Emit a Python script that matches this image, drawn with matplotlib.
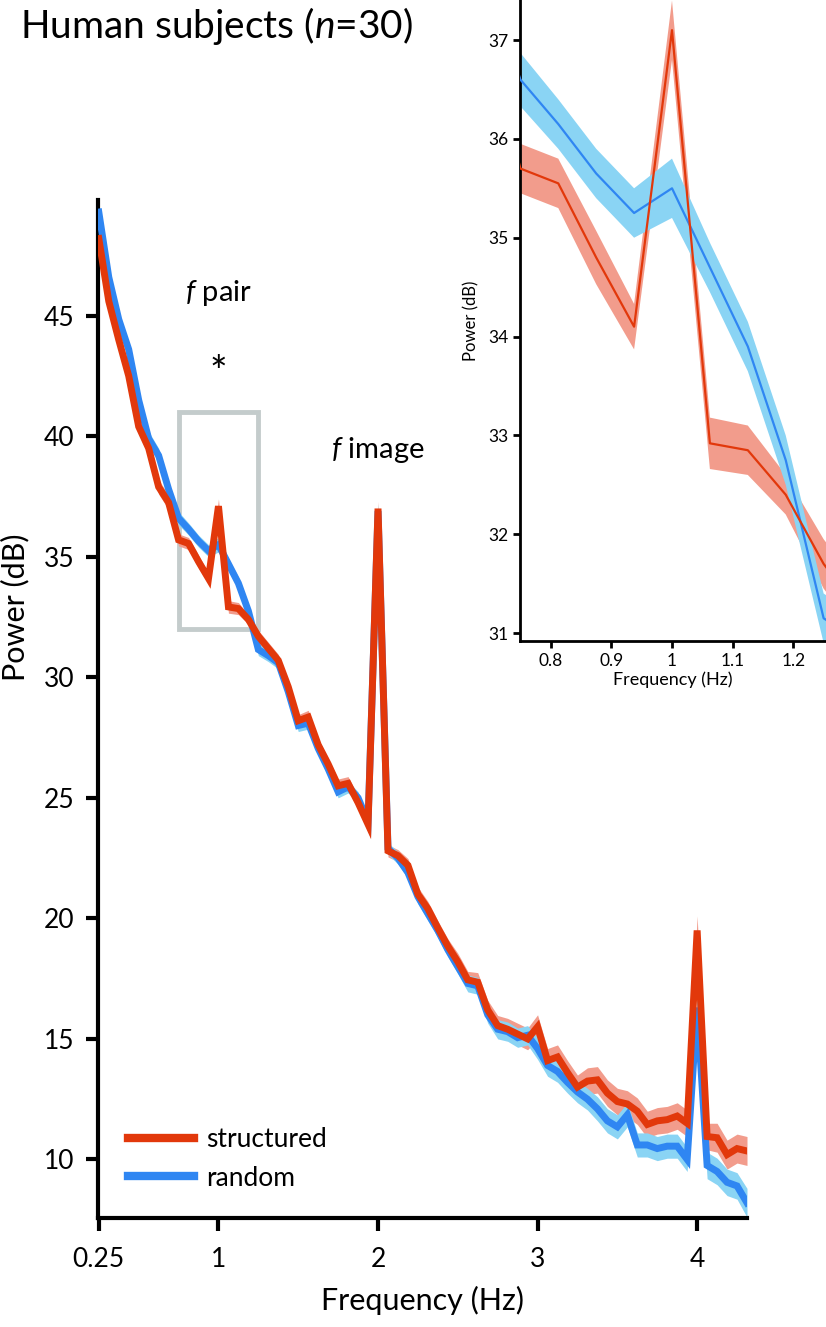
import matplotlib
matplotlib.use("Agg")
import matplotlib.pyplot as plt
from matplotlib.patches import Rectangle
import numpy as np

plt.rcParams['font.family'] = ['Lato', 'DejaVu Sans']
plt.rcParams['mathtext.fontset'] = 'custom'
plt.rcParams['mathtext.rm'] = 'Lato'
plt.rcParams['mathtext.it'] = 'Lato:italic'

# ---------------- data ----------------
freqs = [0.25, 0.3125, 0.375, 0.4375, 0.5, 0.5625, 0.625, 0.6875, 0.75, 0.8125,
         0.875, 0.9375, 1.0, 1.0625, 1.125, 1.1875, 1.25, 1.3125, 1.375, 1.4375,
         1.5, 1.5625, 1.625, 1.6875, 1.75, 1.8125, 1.875, 1.9375, 2.0, 2.0625,
         2.125, 2.1875, 2.25, 2.3125, 2.375, 2.4375, 2.5, 2.5625, 2.625, 2.6875,
         2.75, 2.8125, 2.875, 2.9375, 3.0, 3.0625, 3.125, 3.1875, 3.25, 3.3125,
         3.375, 3.4375, 3.5, 3.5625, 3.625, 3.6875, 3.75, 3.8125, 3.875, 3.9375,
         4.0, 4.0625, 4.125, 4.1875, 4.25, 4.3125]

structured = [48.2, 45.6, 44.0, 42.5, 40.4, 39.5, 37.9, 37.25, 35.7, 35.55,
              34.8, 34.1, 37.1, 32.92, 32.85, 32.4, 31.7, 31.2, 30.7, 29.6,
              28.2, 28.35, 27.2, 26.4, 25.5, 25.6, 24.8, 23.9, 37.0, 22.8,
              22.6, 22.2, 21.0, 20.4, 19.6, 18.85, 18.2, 17.45, 17.35, 16.2,
              15.55, 15.4, 15.2, 15.0, 15.5, 14.1, 14.25, 13.6, 13.0, 13.25,
              13.3, 12.75, 12.4, 12.3, 12.0, 11.45, 11.6, 11.65, 11.8, 11.5,
              19.5, 10.95, 10.9, 10.2, 10.45, 10.35]

random_ = [49.3, 46.6, 44.85, 43.6, 41.5, 39.9, 39.2, 37.8, 36.6, 36.15,
           35.65, 35.25, 35.5, 34.7, 33.9, 32.75, 31.15, 30.9, 30.6, 29.4,
           28.0, 28.1, 27.05, 26.2, 25.25, 25.45, 25.0, 24.0, 36.9, 22.9,
           22.5, 21.9, 20.9, 20.2, 19.5, 18.7, 18.0, 17.3, 17.2, 16.0,
           15.4, 15.3, 15.05, 15.15, 14.6, 13.9, 13.65, 13.2, 12.8, 12.5,
           12.1, 11.6, 11.35, 11.85, 10.6, 10.6, 10.45, 10.55, 10.55, 10.0,
           16.3, 9.75, 9.5, 9.05, 8.9, 8.2]

structured_sem = [0.3, 0.3, 0.3, 0.3, 0.3, 0.3, 0.3, 0.3, 0.25, 0.25,
                  0.27, 0.23, 0.3, 0.26, 0.25, 0.2, 0.25, 0.25, 0.25, 0.25,
                  0.25, 0.28, 0.25, 0.25, 0.28, 0.28, 0.25, 0.25, 0.3, 0.25,
                  0.25, 0.28, 0.3, 0.3, 0.3, 0.3, 0.35, 0.35, 0.4, 0.4,
                  0.42, 0.45, 0.45, 0.45, 0.5, 0.5, 0.5, 0.5, 0.5, 0.55,
                  0.55, 0.55, 0.55, 0.55, 0.55, 0.55, 0.55, 0.55, 0.55, 0.55,
                  0.6, 0.55, 0.6, 0.6, 0.6, 0.6]

random_sem = [0.3, 0.3, 0.3, 0.3, 0.3, 0.3, 0.3, 0.3, 0.27, 0.25,
              0.25, 0.25, 0.3, 0.25, 0.25, 0.25, 0.25, 0.25, 0.25, 0.25,
              0.25, 0.25, 0.25, 0.25, 0.25, 0.25, 0.25, 0.25, 0.3, 0.25,
              0.25, 0.25, 0.3, 0.3, 0.3, 0.3, 0.3, 0.35, 0.35, 0.35,
              0.4, 0.4, 0.4, 0.4, 0.45, 0.45, 0.45, 0.45, 0.45, 0.45,
              0.5, 0.5, 0.5, 0.5, 0.5, 0.5, 0.5, 0.5, 0.5, 0.5,
              0.55, 0.55, 0.55, 0.55, 0.55, 0.6]

main_xticks = [0.25, 1, 2, 3, 4]
main_xticklabels = ["0.25", "1", "2", "3", "4"]
main_yticks = [10, 15, 20, 25, 30, 35, 40, 45]
inset_xticks = [0.8, 0.9, 1.0, 1.1, 1.2]
inset_xticklabels = ["0.8", "0.9", "1", "1.1", "1.2"]
inset_yticks = [31, 32, 33, 34, 35, 36, 37]

labels = ["structured", "random"]

# ---------------- style ----------------
RED = "#E2380B"
RED_BAND = "#F29C8C"
BLUE = "#2F86F2"
BLUE_BAND = "#8AD4F4"
BOX = "#C4CCCC"

f = np.array(freqs)
s = np.array(structured); s_e = np.array(structured_sem)
r = np.array(random_); r_e = np.array(random_sem)

W, H = 826, 1327
fig = plt.figure(figsize=(W / 100, H / 100), dpi=100)

def px_axes(l, t, rgt, b):
    return fig.add_axes([l / W, 1 - b / H, (rgt - l) / W, (b - t) / H])

# ---------------- main axes ----------------
ax = px_axes(98, 200, 747, 1218)
ax.fill_between(f, s - s_e, s + s_e, color=RED_BAND, lw=0, zorder=1)
ax.fill_between(f, r - r_e, r + r_e, color=BLUE_BAND, lw=0, zorder=2)
ax.plot(f, r, color=BLUE, lw=5, solid_joinstyle='miter', zorder=3, label=labels[1])
ax.plot(f, s, color=RED, lw=5, solid_joinstyle='miter', zorder=4, label=labels[0])

ax.set_xlim(0.245, 4.3125)
ax.set_ylim(7.57, 49.8)
for side in ['top', 'right']:
    ax.spines[side].set_visible(False)
for side in ['left', 'bottom']:
    ax.spines[side].set_linewidth(3)
ax.set_xticks(main_xticks)
ax.set_xticklabels(main_xticklabels)
ax.set_yticks(main_yticks)
ax.tick_params(axis='both', direction='out', length=9, width=3, labelsize=19)
ax.tick_params(axis='x', pad=12)
ax.tick_params(axis='y', pad=8)
ax.set_xlabel("Frequency (Hz)", fontsize=22, labelpad=10)
ax.set_ylabel("Power (dB)", fontsize=22)
ax.yaxis.set_label_coords(-0.105, 0.6)

# zoom box
ax.add_patch(Rectangle((0.75, 32.0), 0.5, 9.0, fill=False, edgecolor=BOX, lw=3.5, zorder=0))

ax.text(1.0, 45.6, "$f$ pair", fontsize=21, ha='center', va='baseline')
ax.text(1.0, 42.6, "*", fontsize=30, ha='center', va='center')
ax.text(2.0, 39.1, "$f$ image", fontsize=21, ha='center', va='baseline')

handles, labs = ax.get_legend_handles_labels()
leg = ax.legend(handles[::-1], labs[::-1], loc='lower left', bbox_to_anchor=(0.046, 0.027),
                frameon=False, fontsize=19, handlelength=2.5, handletextpad=0.45,
                labelspacing=0.5, borderpad=0, borderaxespad=0)
for lh in leg.get_lines():
    lh.set_linewidth(6)

fig.text(20 / W, 1 - 38 / H, "Human subjects ($n$=30)", fontsize=28, ha='left', va='baseline')

# ---------------- inset ----------------
ia = px_axes(520, 0, 826, 641)
ia.fill_between(f, s - s_e, s + s_e, color=RED_BAND, lw=0, zorder=1)
ia.fill_between(f, r - r_e, r + r_e, color=BLUE_BAND, lw=0, zorder=2)
ia.plot(f, r, color=BLUE, lw=1.6, zorder=3)
ia.plot(f, s, color=RED, lw=1.6, zorder=4)
ia.set_xlim(0.7494, 1.2539)
ia.set_ylim(30.92, 37.405)
for side in ['top', 'right']:
    ia.spines[side].set_visible(False)
for side in ['left', 'bottom']:
    ia.spines[side].set_linewidth(2)
ia.set_xticks(inset_xticks)
ia.set_xticklabels(inset_xticklabels)
ia.set_yticks(inset_yticks)
ia.tick_params(axis='both', direction='out', length=5, width=2, labelsize=12.5)
ia.set_xlabel("Frequency (Hz)", fontsize=13, labelpad=2)
ia.set_ylabel("Power (dB)", fontsize=12, labelpad=6)

fig.savefig("out.png", dpi=100)
